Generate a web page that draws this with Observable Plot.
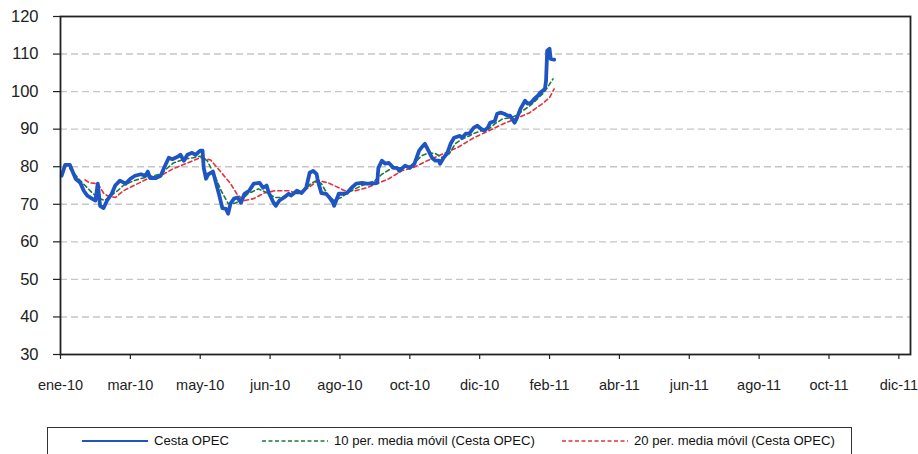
<!DOCTYPE html>
<html>
<head>
<meta charset="utf-8">
<script src="https://cdn.jsdelivr.net/npm/d3@7"></script>
<script src="https://cdn.jsdelivr.net/npm/@observablehq/plot@0.6"></script>
<style>
  body { margin: 0; background: #fff; font-family: "Liberation Sans", Arial, sans-serif; }
  #wrap { position: relative; width: 918px; height: 454px; overflow: hidden; }
  #chart { position: absolute; left: 0; top: 0; }
  #legend { position: absolute; left: 47px; top: 427px; width: 805px; height: 32px;
            border: 1.5px solid #333; box-sizing: border-box; background: #fff; }
  .item { position: absolute; top: 5px; display: flex; align-items: center; font-size: 13.1px; color: #111; white-space: nowrap; }
  .item svg { margin-right: 6px; }
</style>
</head>
<body>
<div id="wrap">
  <div id="chart"></div>
  <div id="legend"></div>
</div>
<script>
// ---- Data ----
const cestaDates = [
  "2010-01-02","2010-01-05","2010-01-09","2010-01-11","2010-01-14","2010-01-18","2010-01-21","2010-01-24","2010-01-28","2010-01-31",
  "2010-02-02","2010-02-04","2010-02-07","2010-02-10","2010-02-14","2010-02-17","2010-02-21","2010-02-26","2010-03-02","2010-03-06",
  "2010-03-11","2010-03-15","2010-03-17","2010-03-19","2010-03-24","2010-03-28","2010-03-31","2010-04-04","2010-04-07","2010-04-12",
  "2010-04-14","2010-04-17","2010-04-20","2010-04-24","2010-04-27","2010-05-01","2010-05-03","2010-05-04","2010-05-06","2010-05-08",
  "2010-05-12","2010-05-14","2010-05-17","2010-05-20","2010-05-23","2010-05-25","2010-05-27","2010-05-30","2010-06-02","2010-06-05",
  "2010-06-08","2010-06-12","2010-06-16","2010-06-21","2010-06-24","2010-06-27","2010-06-29","2010-07-03","2010-07-05","2010-07-08",
  "2010-07-12","2010-07-16","2010-07-18","2010-07-23","2010-07-27","2010-07-31","2010-08-03","2010-08-06","2010-08-09","2010-08-10",
  "2010-08-13","2010-08-17","2010-08-20","2010-08-23","2010-08-24","2010-08-28","2010-09-01","2010-09-04","2010-09-08","2010-09-12",
  "2010-09-17","2010-09-21","2010-09-25","2010-09-30","2010-10-01","2010-10-04","2010-10-07","2010-10-10","2010-10-14","2010-10-17",
  "2010-10-19","2010-10-24","2010-10-28","2010-11-01","2010-11-05","2010-11-07","2010-11-10","2010-11-13","2010-11-16","2010-11-19",
  "2010-11-22","2010-11-23","2010-11-26","2010-11-29","2010-12-02","2010-12-05","2010-12-10","2010-12-12","2010-12-15","2010-12-18",
  "2010-12-22","2010-12-25","2010-12-28","2010-12-31","2011-01-03","2011-01-05","2011-01-09","2011-01-11","2011-01-14","2011-01-17",
  "2011-01-20","2011-01-22","2011-01-26","2011-01-28","2011-01-31","2011-02-04","2011-02-06","2011-02-09","2011-02-12","2011-02-15",
  "2011-02-17","2011-02-21","2011-02-22","2011-02-23","2011-02-25","2011-02-26","2011-03-01"
];
const cestaValues = [
  77.6,80.5,80.5,79.0,76.8,75.7,73.6,72.3,71.5,71.0,
  75.5,69.6,69.0,71.0,72.8,75.0,76.3,75.5,76.8,77.6,
  78.0,77.6,78.7,77.0,77.0,77.6,79.7,82.4,82.0,82.7,
  83.2,81.6,83.2,83.7,83.2,84.3,84.3,79.7,76.8,78.0,
  78.7,76.3,72.8,69.0,68.8,67.5,70.2,71.5,71.8,70.4,
  72.8,73.6,75.5,75.7,74.4,75.0,73.0,70.4,69.6,71.0,
  71.8,72.8,72.3,73.6,73.0,74.4,78.4,78.9,78.0,76.3,
  73.0,72.8,71.8,70.4,69.6,72.8,72.8,73.0,74.4,75.5,
  75.7,75.5,75.5,75.7,79.7,81.6,80.8,81.0,79.7,79.7,
  78.9,80.3,79.7,80.8,84.3,85.1,86.1,84.3,82.4,81.6,
  81.6,80.8,82.4,83.5,86.1,87.7,88.2,87.7,88.8,88.8,
  90.4,90.9,90.1,89.6,90.4,91.7,92.2,94.1,94.4,94.1,
  93.6,93.6,91.7,93.0,95.4,97.6,96.8,97.0,98.1,98.9,
  99.7,100.7,102.9,110.9,111.4,108.7,108.5
];

const ma10Dates = [
  "2010-01-09","2010-01-18","2010-01-24","2010-01-29","2010-02-04","2010-02-08","2010-02-13","2010-02-19","2010-02-24","2010-03-05",
  "2010-03-13","2010-03-22","2010-03-28","2010-04-03","2010-04-08","2010-04-17","2010-04-25","2010-05-01","2010-05-07","2010-05-13",
  "2010-05-19","2010-05-25","2010-05-30","2010-06-05","2010-06-11","2010-06-20","2010-06-28","2010-07-04","2010-07-10","2010-07-18",
  "2010-07-27","2010-08-04","2010-08-09","2010-08-13","2010-08-19","2010-08-24","2010-08-30","2010-09-05","2010-09-17","2010-09-28",
  "2010-10-04","2010-10-13","2010-10-21","2010-10-30","2010-11-07","2010-11-13","2010-11-19","2010-11-25","2010-12-01","2010-12-06",
  "2010-12-12","2010-12-18","2010-12-23","2010-12-29","2011-01-04","2011-01-09","2011-01-16","2011-01-22","2011-01-27","2011-02-02",
  "2011-02-08","2011-02-13","2011-02-19","2011-02-23","2011-02-28"
];
const ma10Values = [
  79.5,76.3,74.4,72.8,71.5,71.0,72.3,73.6,75.0,76.3,
  77.0,77.6,78.0,79.7,81.0,82.0,82.4,82.8,81.6,78.0,
  73.6,70.2,70.2,71.0,72.8,74.1,73.0,71.8,71.8,72.8,
  73.0,75.5,76.3,75.5,72.3,71.0,71.8,73.2,75.0,76.3,
  78.0,79.7,79.7,80.3,82.9,83.7,83.5,82.4,83.5,86.1,
  87.4,88.2,89.0,89.6,90.1,91.4,92.8,93.0,93.6,94.9,
  96.2,97.6,99.4,101.0,103.4
];

const ma20Dates = [
  "2010-01-22","2010-01-26","2010-02-02","2010-02-07","2010-02-10","2010-02-17","2010-02-24","2010-03-05","2010-03-17","2010-03-28",
  "2010-04-08","2010-04-20","2010-05-01","2010-05-10","2010-05-19","2010-05-27","2010-06-02","2010-06-08","2010-06-16","2010-06-25",
  "2010-07-04","2010-07-16","2010-07-24","2010-08-02","2010-08-10","2010-08-19","2010-08-28","2010-09-02","2010-09-11","2010-09-21",
  "2010-09-30","2010-10-10","2010-10-21","2010-10-31","2010-11-12","2010-11-26","2010-12-08","2010-12-22","2011-01-04","2011-01-16",
  "2011-01-27","2011-02-08","2011-02-19","2011-02-25","2011-03-01"
];
const ma20Values = [
  76.5,75.7,75.5,73.0,72.3,71.8,73.6,75.0,76.8,77.6,
  79.5,81.0,82.4,81.8,78.5,75.5,72.5,71.0,71.5,73.0,
  73.6,73.6,72.8,74.4,76.3,75.7,74.4,73.6,73.6,74.4,
  75.5,76.8,78.9,79.8,81.6,83.5,85.1,87.7,89.6,91.4,
  92.8,94.4,96.8,98.4,100.7
];

const tickDates = ["2010-01-01","2010-03-02","2010-05-01","2010-06-30","2010-08-29","2010-10-28","2010-12-27",
                   "2011-02-25","2011-04-26","2011-06-25","2011-08-24","2011-10-23","2011-12-22"];
const tickLabels = ["ene-10","mar-10","may-10","jun-10","ago-10","oct-10","dic-10",
                    "feb-11","abr-11","jun-11","ago-11","oct-11","dic-11"];
const yTicks = [30,40,50,60,70,80,90,100,110,120];
const gridValues = [40,50,60,70,80,90,100,110];

const seriesNames = ["Cesta OPEC","10 per. media móvil (Cesta OPEC)","20 per. media móvil (Cesta OPEC)"];

// ---- Build tables ----
const parse = s => new Date(s + "T00:00:00Z");
const cesta = cestaDates.map((d, i) => ({date: parse(d), value: cestaValues[i]}));
const ma10 = ma10Dates.map((d, i) => ({date: parse(d), value: ma10Values[i]}));
const ma20 = ma20Dates.map((d, i) => ({date: parse(d), value: ma20Values[i]}));
const ticks = tickDates.map(parse);
const labelMap = new Map(ticks.map((t, i) => [+t, tickLabels[i]]));

const BLUE = "#1f55c2", GREEN = "#1d7a3e", RED = "#e3323c";

const chart = Plot.plot({
  width: 918,
  height: 410,
  marginLeft: 60,
  marginRight: 8,
  marginTop: 16,
  marginBottom: 56,
  style: {fontFamily: "'Liberation Sans', Arial, sans-serif", color: "#222", background: "transparent"},
  x: {type: "utc", domain: [parse("2010-01-01"), parse("2012-01-01")]},
  y: {domain: [30, 120]},
  marks: [
    Plot.gridY(gridValues, {stroke: "#c6c6c6", strokeOpacity: 1, strokeWidth: 1.4, strokeDasharray: "7,4"}),
    Plot.axisY({ticks: yTicks, tickSize: 7, tickPadding: 15, fontSize: 16.5, label: null, stroke: "#222", strokeWidth: 1.2}),
    Plot.axisX({ticks: ticks, tickSize: 5, tickPadding: 20, fontSize: 14.5, label: null, stroke: "#222", strokeWidth: 1.2,
                tickFormat: d => labelMap.get(+d)}),
    Plot.line(ma20, {x: "date", y: "value", stroke: RED, strokeWidth: 1.6, strokeDasharray: "4,3"}),
    Plot.line(ma10, {x: "date", y: "value", stroke: GREEN, strokeWidth: 1.6, strokeDasharray: "4,3"}),
    Plot.line(cesta, {x: "date", y: "value", stroke: BLUE, strokeWidth: 3.8, strokeLinejoin: "round"}),
    Plot.frame({stroke: "#222", strokeWidth: 1.8})
  ]
});
document.getElementById("chart").appendChild(chart);

// ---- Legend ----
const legend = document.getElementById("legend");
const items = [
  {name: seriesNames[0], color: BLUE, dash: null, w: 2, left: 34},
  {name: seriesNames[1], color: GREEN, dash: "4,2.5", w: 1.5, left: 214},
  {name: seriesNames[2], color: RED, dash: "4,2.5", w: 1.5, left: 514}
];
for (const it of items) {
  const div = document.createElement("div");
  div.className = "item";
  div.style.left = it.left + "px";
  div.innerHTML = `<svg width="66" height="12"><line x1="0" x2="66" y1="6" y2="6" stroke="${it.color}" stroke-width="${it.w}" ${it.dash ? `stroke-dasharray="${it.dash}"` : ""}/></svg><span>${it.name}</span>`;
  legend.appendChild(div);
}
</script>
</body>
</html>
